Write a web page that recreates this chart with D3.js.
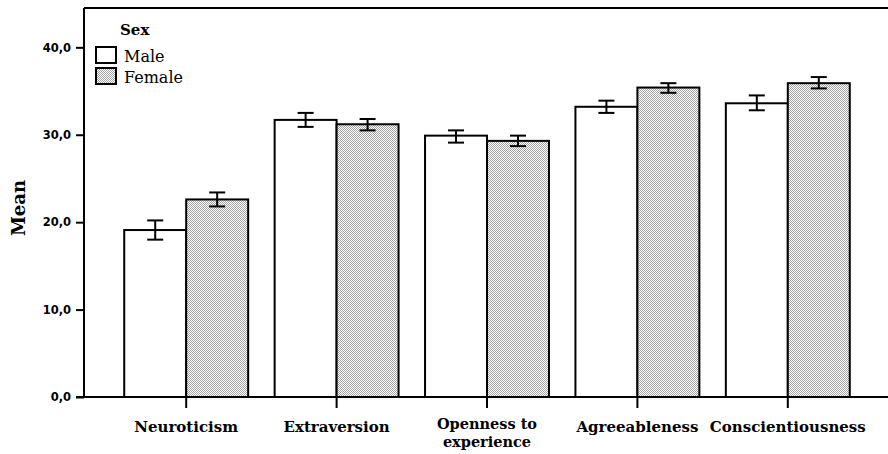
<!DOCTYPE html>
<html>
<head>
<meta charset="utf-8">
<script src="https://cdn.jsdelivr.net/npm/d3@7"></script>
<style>
  html, body { margin: 0; padding: 0; background: #fff; }
  svg { display: block; }
</style>
</head>
<body>
<svg id="chart" width="888" height="454"></svg>
<script>
const categories = ["Neuroticism", "Extraversion", "Openness to experience", "Agreeableness", "Conscientiousness"];
const categoryLines = [["Neuroticism"], ["Extraversion"], ["Openness to", "experience"], ["Agreeableness"], ["Conscientiousness"]];
const seriesNames = ["Male", "Female"];
const maleMean = [19.1, 31.7, 29.9, 33.2, 33.6];
const maleLow  = [18.0, 30.9, 29.1, 32.5, 32.8];
const maleHigh = [20.2, 32.5, 30.5, 33.9, 34.5];
const femaleMean = [22.6, 31.2, 29.3, 35.4, 35.9];
const femaleLow  = [21.8, 30.5, 28.7, 34.8, 35.3];
const femaleHigh = [23.4, 31.8, 29.9, 35.9, 36.6];
const yTicks = [0, 10, 20, 30, 40];
const yTickLabels = ["0,0", "10,0", "20,0", "30,0", "40,0"];

const svg = d3.select("#chart");
const mLeft = 84, mTop = 8, mBottom = 397, mRight = 888;

const defs = svg.append("defs");
const pat = defs.append("pattern").attr("id", "stipple")
  .attr("patternUnits", "userSpaceOnUse").attr("width", 2).attr("height", 2);
pat.append("rect").attr("width", 2).attr("height", 2).attr("fill", "#fff");
pat.append("rect").attr("x", 0).attr("y", 0).attr("width", 1).attr("height", 1).attr("fill", "#a4a4a4");
pat.append("rect").attr("x", 1).attr("y", 1).attr("width", 1).attr("height", 1).attr("fill", "#a4a4a4");

const y = d3.scaleLinear().domain([0, 44.5]).range([mBottom, mTop]);
const x = d3.scaleBand().domain(categories).range([111, 863]).paddingInner(0.176).paddingOuter(0.088);
const x1 = d3.scaleBand().domain(seriesNames).range([0, x.bandwidth()]);

const data = categories.map((c, i) => [
  { cat: c, s: "Male", v: maleMean[i], lo: maleLow[i], hi: maleHigh[i] },
  { cat: c, s: "Female", v: femaleMean[i], lo: femaleLow[i], hi: femaleHigh[i] }
]).flat();

// bars
svg.append("g").selectAll("rect").data(data).join("rect")
  .attr("x", d => x(d.cat) + x1(d.s))
  .attr("y", d => y(d.v))
  .attr("width", x1.bandwidth())
  .attr("height", d => y(0) - y(d.v))
  .attr("fill", d => d.s === "Male" ? "#fff" : "url(#stipple)")
  .attr("stroke", "#000").attr("stroke-width", 2);

// error bars
const eg = svg.append("g").attr("stroke", "#000").attr("stroke-width", 2).attr("fill", "none");
data.forEach(d => {
  const cx = x(d.cat) + x1(d.s) + x1.bandwidth() / 2;
  eg.append("line").attr("x1", cx).attr("x2", cx).attr("y1", y(d.lo)).attr("y2", y(d.hi));
  eg.append("line").attr("x1", cx - 8).attr("x2", cx + 8).attr("y1", y(d.lo)).attr("y2", y(d.lo));
  eg.append("line").attr("x1", cx - 8).attr("x2", cx + 8).attr("y1", y(d.hi)).attr("y2", y(d.hi));
});

// frame
svg.append("line").attr("x1", mLeft).attr("x2", mRight).attr("y1", mTop).attr("y2", mTop)
  .attr("stroke", "#000").attr("stroke-width", 2);

// y axis
const yAxis = d3.axisLeft(y).tickValues(yTicks).tickFormat((d, i) => yTickLabels[i]).tickSize(8).tickPadding(5);
const yg = svg.append("g").attr("transform", `translate(${mLeft},0)`).call(yAxis);
yg.select(".domain").attr("d", `M0,${mTop}V${mBottom}`).attr("stroke", "#000").attr("stroke-width", 2);
yg.selectAll(".tick line").attr("stroke", "#000").attr("stroke-width", 2);
yg.selectAll(".tick text").attr("fill", "#000")
  .style("font-family", "'DejaVu Sans', sans-serif").style("font-weight", "bold").style("font-size", "11.5px");

// x axis
const xAxis = d3.axisBottom(x).tickSize(11).tickFormat("");
const xg = svg.append("g").attr("transform", `translate(0,${mBottom})`).call(xAxis);
xg.select(".domain").attr("d", `M${mLeft - 8},0H${mRight}`).attr("stroke", "#000").attr("stroke-width", 2);
xg.selectAll(".tick line").attr("stroke", "#000").attr("stroke-width", 2);
xg.selectAll(".tick").each(function(d, i) {
  const lines = categoryLines[i];
  lines.forEach((ln, j) => {
    d3.select(this).append("text").attr("fill", "#000").attr("text-anchor", "middle")
      .style("font-family", "'DejaVu Serif', serif").style("font-weight", "bold")
      .style("font-size", lines.length > 1 ? "14.5px" : "15px")
      .attr("x", 0).attr("y", lines.length > 1 ? 32 + j * 17.5 : 35).text(ln);
  });
});

// y title
svg.append("text").attr("transform", "translate(25,208) rotate(-90)")
  .attr("text-anchor", "middle").attr("fill", "#000")
  .style("font-family", "'DejaVu Serif', serif").style("font-weight", "bold").style("font-size", "18px")
  .text("Mean");

// legend
const lg = svg.append("g");
lg.append("text").attr("x", 120).attr("y", 35).attr("fill", "#000")
  .style("font-family", "'DejaVu Serif', serif").style("font-weight", "bold").style("font-size", "15px")
  .text("Sex");
seriesNames.forEach((s, i) => {
  const yy = 47 + i * 21;
  lg.append("rect").attr("x", 96).attr("y", yy).attr("width", 20).attr("height", 16)
    .attr("fill", s === "Male" ? "#fff" : "url(#stipple)").attr("stroke", "#000").attr("stroke-width", 2);
  lg.append("text").attr("x", 124).attr("y", yy + 15).attr("fill", "#000")
    .style("font-family", "'DejaVu Serif', serif").style("font-size", "16px")
    .text(s);
});
</script>
</body>
</html>
